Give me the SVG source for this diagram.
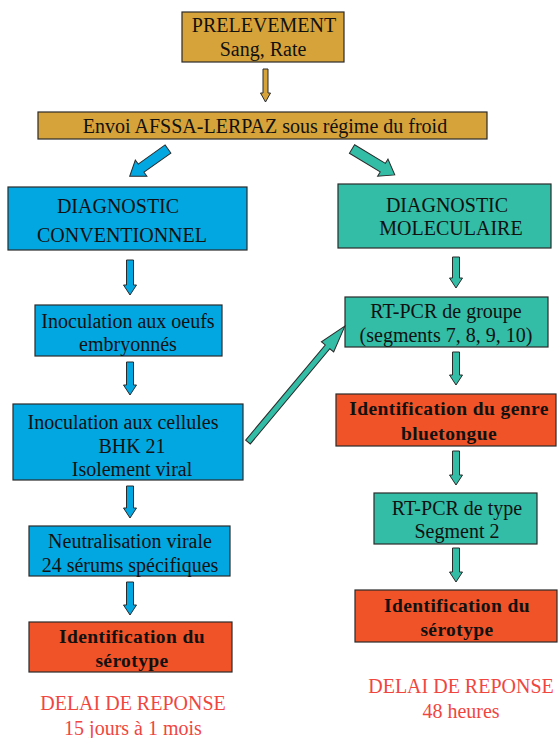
<svg xmlns="http://www.w3.org/2000/svg" width="558" height="738" viewBox="0 0 558 738" font-family="'Liberation Serif', 'Times New Roman', Times, serif">
<style>
.box{stroke:#2a2a2a;stroke-width:1.2}
.gold{fill:#d6a33a}
.blue{fill:#02a7e1}
.teal{fill:#33bca6}
.red{fill:#f05327}
text{font-family:'Liberation Serif','Times New Roman',Times,serif}
.t{font-size:20px;fill:#111;text-anchor:middle}
.b{font-weight:bold;font-size:19.5px;letter-spacing:0.4px}
.d{fill:#f0463f}
.arr{stroke:#2a2a2a;stroke-width:1}
</style>
<rect width="558" height="738" fill="#ffffff"/>
<g id="prelevement">
<rect class="box gold" x="182" y="12" width="162" height="50"/>
<text class="t" x="264" y="32">PRELEVEMENT</text>
<text class="t" x="263" y="56">Sang, Rate</text>
</g>
<g id="envoi">
<rect class="box gold" x="38" y="112" width="449" height="27"/>
<text class="t" x="265" y="133">Envoi AFSSA-LERPAZ sous régime du froid</text>
</g>
<g id="diag-conv">
<rect class="box blue" x="8" y="187" width="239" height="63"/>
<text class="t" x="118" y="213">DIAGNOSTIC</text>
<text class="t" x="122" y="242">CONVENTIONNEL</text>
</g>
<g id="oeufs">
<rect class="box blue" x="35" y="305" width="187" height="51"/>
<text class="t" x="128" y="328">Inoculation aux oeufs</text>
<text class="t" x="128" y="351">embryonnés</text>
</g>
<g id="cellules">
<rect class="box blue" x="13" y="404" width="230" height="76"/>
<text class="t" x="123" y="429">Inoculation aux cellules</text>
<text class="t" x="132" y="453">BHK 21</text>
<text class="t" x="132" y="476">Isolement viral</text>
</g>
<g id="neutralisation">
<rect class="box blue" x="29" y="526" width="201" height="50"/>
<text class="t" x="130" y="548">Neutralisation virale</text>
<text class="t" x="130" y="572">24 sérums spécifiques</text>
</g>
<g id="serotype-left">
<rect class="box red" x="29" y="622" width="203" height="50"/>
<text class="t b" x="132" y="643">Identification du</text>
<text class="t b" x="132" y="667">sérotype</text>
</g>
<g id="delai-left">
<text class="t d" x="133" y="710">DELAI DE REPONSE</text>
<text class="t d" x="133" y="735">15 jours à 1 mois</text>
</g>
<g id="diag-mol">
<rect class="box teal" x="338" y="184" width="213" height="64"/>
<text class="t" x="447" y="212">DIAGNOSTIC</text>
<text class="t" x="451" y="235">MOLECULAIRE</text>
</g>
<g id="rtpcr-groupe">
<rect class="box teal" x="345" y="297" width="203" height="50"/>
<text class="t" x="446" y="318">RT-PCR de groupe</text>
<text class="t" x="446" y="342">(segments 7, 8, 9, 10)</text>
</g>
<g id="genre">
<rect class="box red" x="336" y="394" width="220" height="52"/>
<text class="t b" x="449" y="415">Identification du genre</text>
<text class="t b" x="449" y="440">bluetongue</text>
</g>
<g id="rtpcr-type">
<rect class="box teal" x="374" y="493" width="163" height="51"/>
<text class="t" x="457" y="515">RT-PCR de type</text>
<text class="t" x="457" y="538">Segment 2</text>
</g>
<g id="serotype-right">
<rect class="box red" x="355" y="590" width="202" height="52"/>
<text class="t b" x="457" y="612">Identification du</text>
<text class="t b" x="457" y="636">sérotype</text>
</g>
<g id="delai-right">
<text class="t d" x="461" y="693">DELAI DE REPONSE</text>
<text class="t d" x="461" y="718">48 heures</text>
</g>
<g id="connectors" class="arr">
<path class="gold" d="M263 69 H268 V93 H270.5 L265.5 102 L260.5 93 H263 Z"/>
<path class="blue" transform="translate(168,149) rotate(144.6)" d="M0 -5 H33 V-10 L47 0 L33 10 V5 H0 Z"/>
<path class="teal" transform="translate(352,149) rotate(31.2)" d="M0 -5 H36 V-10 L50 0 L36 10 V5 H0 Z"/>
<path class="blue" d="M126.5 260 H133.5 V285 H136.5 L130 295 L123.5 285 H126.5 Z"/>
<path class="blue" d="M126.5 362 H133.5 V385 H136.5 L130 395 L123.5 385 H126.5 Z"/>
<path class="blue" d="M126.5 486 H133.5 V508 H136.5 L130 518 L123.5 508 H126.5 Z"/>
<path class="blue" d="M126.5 582 H133.5 V605 H136.5 L130 615 L123.5 605 H126.5 Z"/>
<path class="teal" d="M452.5 257 H459.5 V278 H462.5 L456 288 L449.5 278 H452.5 Z"/>
<path class="teal" d="M452.5 352 H459.5 V375 H462.5 L456 385 L449.5 375 H452.5 Z"/>
<path class="teal" d="M452.5 451 H459.5 V475 H462.5 L456 485 L449.5 475 H452.5 Z"/>
<path class="teal" d="M452.5 548 H459.5 V572 H462.5 L456 582 L449.5 572 H452.5 Z"/>
<path class="teal" transform="translate(248,442) rotate(-50.1)" d="M0 -3 H124 V-8 L151 0 L124 8 V3 H0 Z"/>
</g>
</svg>
